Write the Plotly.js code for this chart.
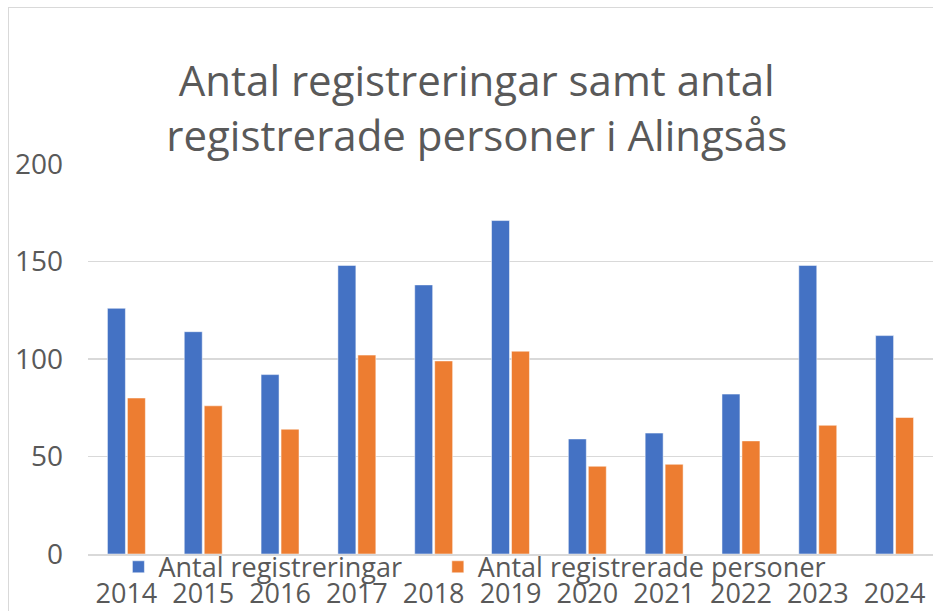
<!DOCTYPE html>
<html>
<head>
<meta charset="utf-8">
<script src="https://cdn.plot.ly/plotly-3.0.1.min.js"></script>
<style>
  html, body { margin: 0; padding: 0; background: #ffffff; overflow: hidden; }
  #frame { position: absolute; left: 8px; top: 7px; width: 1000px; height: 700px; border: 1.5px solid #d9d9d9; box-sizing: border-box; }
  #chart { position: absolute; left: 0; top: 0; width: 933px; height: 611px; }
</style>
</head>
<body>
<div id="frame"></div>
<div id="chart"></div>
<script>
const years = ["2014","2015","2016","2017","2018","2019","2020","2021","2022","2023","2024"];
const registreringar = [126, 114, 92, 148, 138, 171, 59, 62, 82, 148, 112];
const personer = [80, 76, 64, 102, 99, 104, 45, 46, 58, 66, 70];
const seriesNames = ["Antal registreringar", "Antal registrerade personer"];
const titleText = "Antal registreringar samt antal<br>registrerade personer i Alingsås";

const font = "Open Sans, Liberation Sans, sans-serif";
const grey = "#595959";

const traces = [
  { type: "bar", name: seriesNames[0], x: years, y: registreringar, legend: "legend",
    marker: { color: "#4472C4", line: { color: "rgba(255,255,255,0.5)", width: 1 } } },
  { type: "bar", name: seriesNames[1], x: years, y: personer, legend: "legend2",
    marker: { color: "#ED7D31", line: { color: "rgba(255,255,255,0.5)", width: 1 } } }
];

const legendCommon = {
  orientation: "h", xanchor: "left", y: -0.034, yanchor: "middle",
  font: { size: 27, color: grey, family: font }, bgcolor: "rgba(0,0,0,0)", itemwidth: 30
};

const layout = {
  width: 933, height: 611,
  margin: { l: 88, r: 0, t: 164, b: 57 },
  paper_bgcolor: "rgba(0,0,0,0)",
  plot_bgcolor: "rgba(0,0,0,0)",
  font: { family: font, color: grey, size: 28 },
  title: { text: titleText, font: { family: font, size: 42, color: grey },
           x: 0.511, xref: "container", xanchor: "center",
           y: 1 - 96/611, yref: "container", yanchor: "middle" },
  barmode: "group", bargap: 0.48, bargroupgap: 0.1,
  xaxis: { type: "category", showgrid: false, showline: true, linecolor: "#d9d9d9", linewidth: 1.5,
           ticks: "", tickfont: { size: 27, color: grey, family: font }, ticklabelstandoff: 15, automargin: false },
  yaxis: { range: [0, 200], tickvals: [0, 50, 100, 150, 200], showgrid: true, gridcolor: "#d9d9d9", gridwidth: 1.5,
           zeroline: false, showline: false, ticks: "", tickfont: { size: 28, color: grey, family: font },
           ticklabelstandoff: 24, automargin: false },
  showlegend: true,
  legend: Object.assign({}, legendCommon, { x: 0.036 }),
  legend2: Object.assign({}, legendCommon, { x: 0.414 })
};

Plotly.newPlot("chart", traces, layout, { displayModeBar: false, staticPlot: true });
</script>
</body>
</html>
